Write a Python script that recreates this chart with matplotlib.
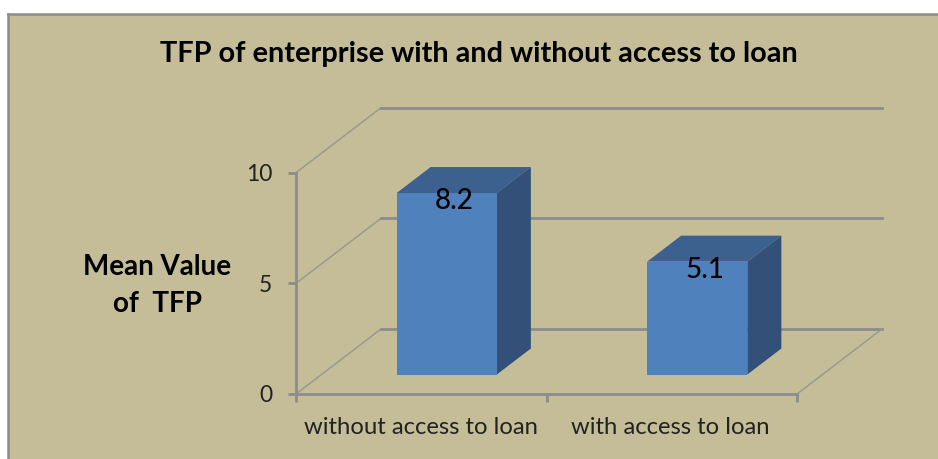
import matplotlib
matplotlib.use("Agg")
import matplotlib.pyplot as plt
from matplotlib.patches import Polygon

categories = ["without access to loan", "with access to loan"]
values = [8.2, 5.1]
y_ticks = [0, 5, 10]

W, H = 938, 459
BG = "#c4bd97"
GREY = "#8c8c8c"

plt.rcParams["font.family"] = ["Lato", "DejaVu Sans"]

fig = plt.figure(figsize=(W / 100, H / 100), dpi=100, facecolor="white")

# chart area background, with grey edge on top and left only
bg = fig.add_axes([8 / W, 0, 1 - 8 / W, 1 - 14 / H], facecolor=BG)
bg.set_xticks([])
bg.set_yticks([])
for s in ["right", "bottom"]:
    bg.spines[s].set_visible(False)
for s in ["top", "left"]:
    bg.spines[s].set_color(GREY)
    bg.spines[s].set_linewidth(1.8)

# main axes = front plane of the fake 3d box
ax = fig.add_axes([296 / W, (H - 394) / H, 501 / W, 221.3 / H])
ax.patch.set_alpha(0)
ax.set_xlim(0, 2)
ax.set_ylim(0, 10)
ax.set_zorder(2)

# depth of the box, in data units
dx = 85 / 250.5
dy = 65 / 22.13

for t in y_ticks:
    ax.plot([0, dx], [t, t + dy], color="#9a9a90", lw=1.1, clip_on=False, zorder=1)
    ax.plot([dx, 2 + dx], [t + dy, t + dy], color=GREY, lw=2, clip_on=False, zorder=1)
ax.plot([2, 2 + dx], [0, dy], color="#9a9a90", lw=1.1, clip_on=False, zorder=1)

# bars, front face plus top and side
bar_w = 0.4
d0, d1 = 0.3, 0.7
for i, v in enumerate(values):
    x0 = i + 0.3 + d0 * dx
    x1 = x0 + bar_w
    y0 = d0 * dy
    y1 = y0 + v
    ddx = (d1 - d0) * dx
    ddy = (d1 - d0) * dy
    ax.add_patch(Polygon([(x0, y1), (x1, y1), (x1 + ddx, y1 + ddy), (x0 + ddx, y1 + ddy)],
                         fc="#3c618f", ec="none", clip_on=False, zorder=3))
    ax.add_patch(Polygon([(x1, y0), (x1 + ddx, y0 + ddy), (x1 + ddx, y1 + ddy), (x1, y1)],
                         fc="#325078", ec="none", clip_on=False, zorder=3))
    ax.bar(x0 + bar_w / 2, v, width=bar_w, bottom=y0, color="#4f81bd", zorder=4)
    ax.text(x0 + bar_w / 2 + 0.03, y1 - 0.36, f"{v}", ha="center", va="center",
            fontsize=20, fontweight="medium", color="black", zorder=5)

for s in ["top", "right"]:
    ax.spines[s].set_visible(False)
for s in ["left", "bottom"]:
    ax.spines[s].set_color(GREY)
    ax.spines[s].set_linewidth(2)
    ax.spines[s].set_zorder(2)

ax.set_yticks(y_ticks)
ax.set_xticks([0, 1, 2])
ax.set_xticklabels([])
ax.tick_params(axis="both", color=GREY, width=2, length=6, labelsize=16.5, labelcolor="#222222")
ax.tick_params(axis="y", pad=11)

label_x = [421, 670]
for c, px in zip(categories, label_x):
    fig.text(px / W, 1 - 428 / H, c, ha="center", va="center", fontsize=17.2, color="#222222")

fig.text(479 / W, 1 - 54 / H, "TFP of enterprise with and without access to loan",
         ha="center", va="center", fontsize=20.8, fontweight="bold", color="black")
fig.text(157 / W, 1 - 267 / H, "Mean Value", ha="center", va="center",
         fontsize=20, fontweight="bold", color="black")
fig.text(157 / W, 1 - 304 / H, "of  TFP", ha="center", va="center",
         fontsize=20, fontweight="bold", color="black")

fig.savefig("out.png", dpi=100)
